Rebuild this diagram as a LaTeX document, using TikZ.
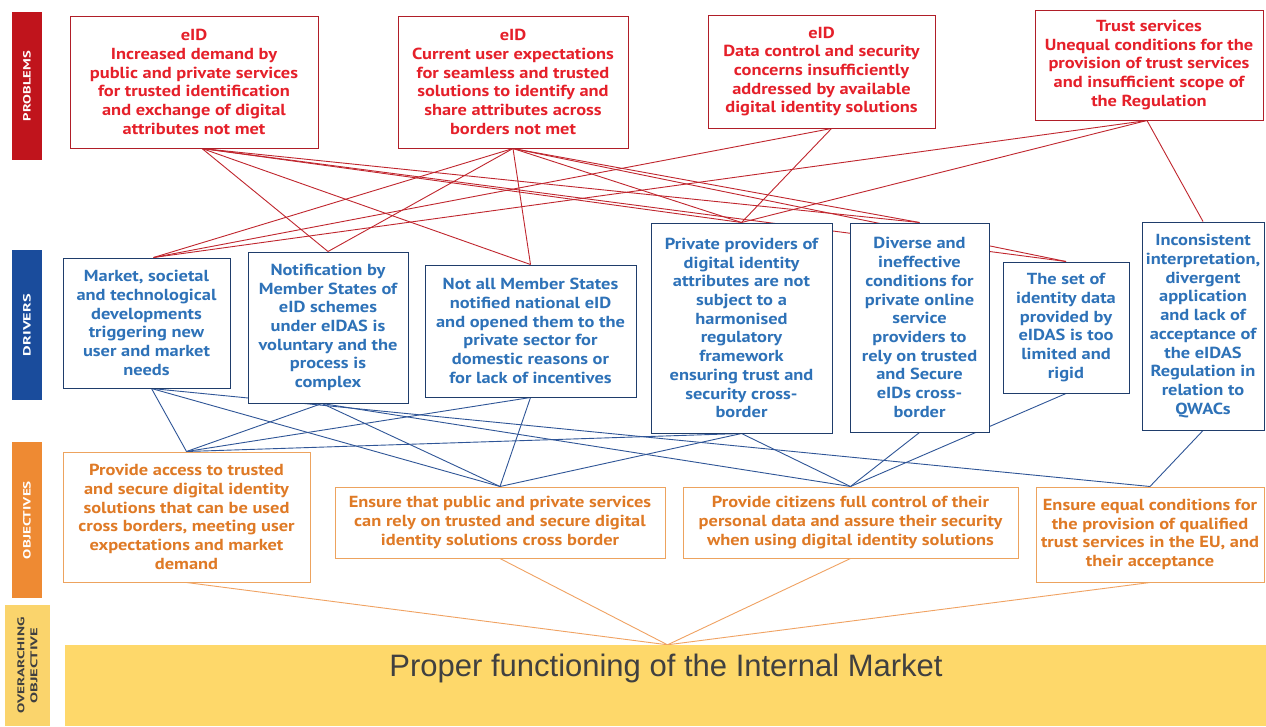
\documentclass[tikz,border=0pt]{standalone}
\usepackage{fontspec}
\setmainfont{PT Sans}
\newfontfamily\boxfont{PT Sans}[FakeStretch=1.15]
\newfontfamily\arialf{Liberation Sans}
\usetikzlibrary{calc}
\pgfdeclarelayer{background}
\pgfsetlayers{background,main}
\definecolor{ptext}{HTML}{E5202A}
\definecolor{pborder}{HTML}{B01E28}
\definecolor{dtext}{HTML}{2E72B8}
\definecolor{dborder}{HTML}{1F3D6B}
\definecolor{otext}{HTML}{DF7A26}
\definecolor{oborder}{HTML}{EDA35E}
\definecolor{redline}{HTML}{C0262E}
\definecolor{blueline}{HTML}{2F5597}
\definecolor{orline}{HTML}{F0A262}
\definecolor{barred}{HTML}{C0141C}
\definecolor{barblue}{HTML}{1A4C9C}
\definecolor{barorange}{HTML}{EE8A33}
\definecolor{baryellow}{HTML}{FAD46C}
\definecolor{mainyellow}{HTML}{FED86A}
\definecolor{maintext}{HTML}{404040}
\tikzset{
  boxbase/.style={draw, fill=white, line width=1pt, align=center, inner sep=2pt,
    font=\boxfont\bfseries\fontsize{16}{18.7}\selectfont},
  probbox/.style={boxbase, draw=pborder, text=ptext},
  drvbox/.style={boxbase, draw=dborder, text=dtext},
  objbox/.style={boxbase, draw=oborder, text=otext},
  sidebar/.style={rotate=90, inner sep=0pt, text=white, align=center,
    font=\bfseries\fontsize{10}{11}\selectfont},
  redlink/.style={draw=redline, line width=0.9pt},
  bluelink/.style={draw=blueline, line width=0.9pt},
  orlink/.style={draw=orline, line width=0.9pt}
}
\begin{document}
\begin{tikzpicture}[x=1pt,y=-1pt]
\useasboundingbox (0,0) rectangle (1266,726);

% side bars
\node[sidebar, fill=barred, minimum width=148, minimum height=30] (LP) at (27,86) {\resizebox{70pt}{7.5pt}{PROBLEMS}};
\node[sidebar, fill=barblue, minimum width=150, minimum height=30] (LD) at (27,325) {\resizebox{62pt}{7.5pt}{DRIVERS}};
\node[sidebar, fill=barorange, minimum width=156, minimum height=30] (LO) at (27,520) {\resizebox{78pt}{7.5pt}{OBJECTIVES}};
\node[sidebar, fill=baryellow, text=maintext, minimum width=121, minimum height=45] (LV) at (27.5,665.5)
  {\resizebox{96pt}{7pt}{OVERARCHING}\\[2pt]\resizebox{76pt}{7pt}{OBJECTIVE}};

% problems
\node[probbox, minimum width=248, minimum height=132] (P1) at (194,82)
  {eID\\Increased demand by\\public and private services\\for trusted identification\\and exchange of digital\\attributes not met};
\node[probbox, minimum width=230, minimum height=132] (P2) at (513,82)
  {eID\\Current user expectations\\for seamless and trusted\\solutions to identify and\\share attributes across\\borders not met};
\node[probbox, minimum width=227, minimum height=113] (P3) at (821.5,71.5)
  {eID\\Data control and security\\concerns insufficiently\\addressed by available\\digital identity solutions};
\node[probbox, minimum width=228, minimum height=110] (P4) at (1149,65)
  {Trust services\\Unequal conditions for the\\provision of trust services\\and insufficient scope of\\the Regulation};

% drivers
\node[drvbox, minimum width=167, minimum height=130] (D1) at (146.5,323)
  {Market, societal\\and technological\\developments\\triggering new\\user and market\\needs};
\node[drvbox, minimum width=160, minimum height=151] (D2) at (328,327.5)
  {Notification by\\Member States of\\eID schemes\\under eIDAS is\\voluntary and the\\process is\\complex};
\node[drvbox, minimum width=211, minimum height=132] (D3) at (530.5,331)
  {Not all Member States\\notified national eID\\and opened them to the\\private sector for\\domestic reasons or\\for lack of incentives};
\node[drvbox, minimum width=181, minimum height=210] (D4) at (741.5,328)
  {Private providers of\\digital identity\\attributes are not\\subject to a\\harmonised\\regulatory\\framework\\ensuring trust and\\security cross-\\border};
\node[drvbox, minimum width=139, minimum height=209] (D5) at (919.5,327.5)
  {Diverse and\\ineffective\\conditions for\\private online\\service\\providers to\\rely on trusted\\and Secure\\eIDs cross-\\border};
\node[drvbox, minimum width=126, minimum height=131] (D6) at (1066,327.5)
  {The set of\\identity data\\provided by\\eIDAS is too\\limited and\\rigid};
\node[drvbox, minimum width=122, minimum height=208] (D7) at (1203,326)
  {Inconsistent\\interpretation,\\divergent\\application\\and lack of\\acceptance of\\the eIDAS\\Regulation in\\relation to\\QWACs};

% objectives
\node[objbox, minimum width=247, minimum height=130] (O1) at (186.5,517)
  {Provide access to trusted\\and secure digital identity\\solutions that can be used\\cross borders, meeting user\\expectations and market\\demand};
\node[objbox, minimum width=330, minimum height=71] (O2) at (500,522.5)
  {Ensure that public and private services\\can rely on trusted and secure digital\\identity solutions cross border};
\node[objbox, minimum width=335, minimum height=71] (O3) at (850.5,522.5)
  {Provide citizens full control of their\\personal data and assure their security\\when using digital identity solutions};
\node[objbox, minimum width=228, minimum height=95] (O4) at (1150,534.5)
  {Ensure equal conditions for\\the provision of qualified\\trust services in the EU, and\\their acceptance};

% overarching objective
\node[fill=mainyellow, minimum width=1201, minimum height=81, inner sep=0pt] (M) at (665.5,685.5) {};
\node[text=maintext, font=\arialf\fontsize{31}{34}\selectfont] (MT) at (666,668) {Proper functioning of the Internal Market};

\begin{pgfonlayer}{background}
\fill[white] (0,0) rectangle (1266,726);
% problems -> drivers
\foreach \d in {D2,D3,D4,D5,D6} \draw[redlink] ([xshift=8pt]P1.south) -- (\d.north);
\foreach \d in {D2,D3,D4,D5,D6} \draw[redlink] (P2.south) -- (\d.north);
\draw[redlink] (P2.south) -- ([xshift=7pt]D1.north);
\draw[redlink] ([xshift=10pt]P3.south) -- ([xshift=7pt]D1.north);
\draw[redlink] ([xshift=10pt]P3.south) -- (D4.north);
\draw[redlink] ([xshift=-2pt]P4.south) -- ([xshift=7pt]D1.north);
\draw[redlink] ([xshift=-2pt]P4.south) -- (D4.north);
\draw[redlink] ([xshift=-2pt]P4.south) -- (D7.north);
% drivers -> objectives
\foreach \o in {O1,O2,O4} \draw[bluelink] ([xshift=5pt]D1.south) -- (\o.north);
\foreach \o in {O1,O2,O3} \draw[bluelink] ([xshift=-6pt]D2.south) -- (\o.north);
\foreach \o in {O1,O2} \draw[bluelink] (D3.south) -- (\o.north);
\foreach \o in {O1,O2,O3} \draw[bluelink] (D4.south) -- (\o.north);
\draw[bluelink] (D5.south) -- (O3.north);
\draw[bluelink] (D6.south) -- (O3.north);
\draw[bluelink] (D7.south) -- (O4.north);
% objectives -> overarching
\foreach \o in {O1,O2,O3,O4} \draw[orlink] (\o.south) -- ([xshift=2pt]M.north);
\end{pgfonlayer}
\end{tikzpicture}
\end{document}
